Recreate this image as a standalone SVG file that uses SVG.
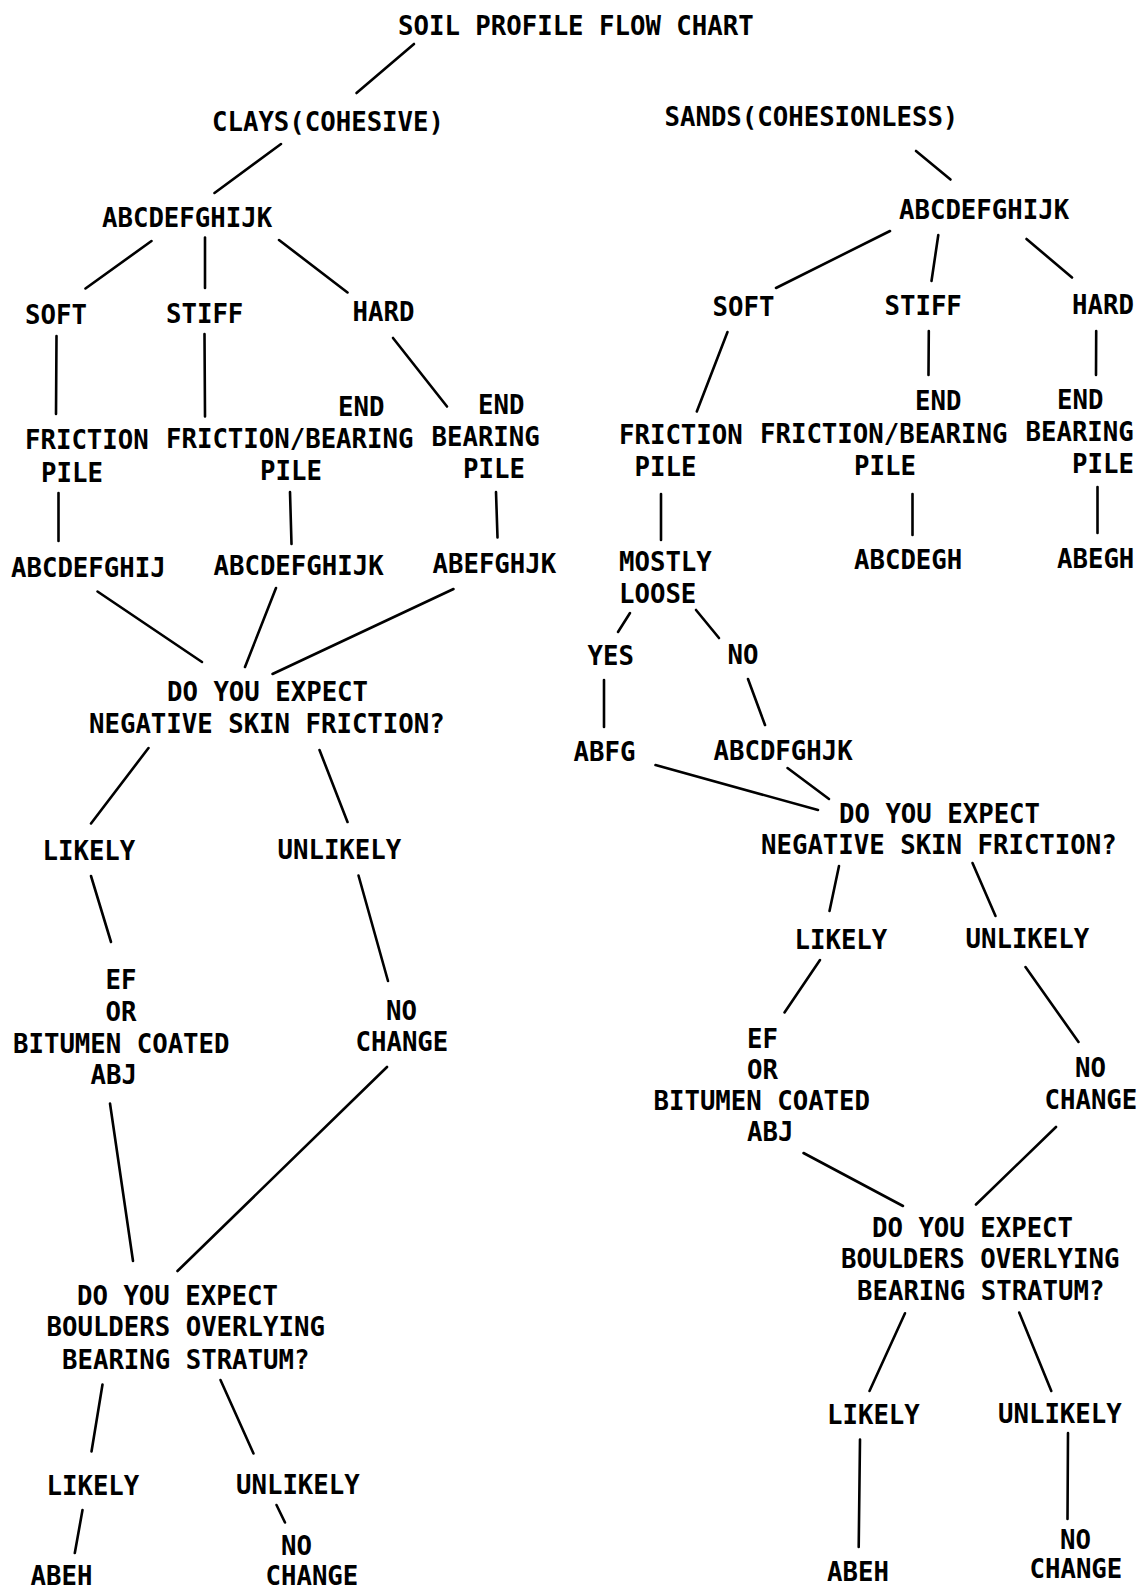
<svg xmlns="http://www.w3.org/2000/svg" width="1141" height="1589" viewBox="0 0 1141 1589">
<style>
.t { font-family: "DejaVu Sans Mono", "Liberation Mono", monospace; font-weight: bold; font-size: 25.7px; fill: #000; }
#connectors line { stroke: #000; stroke-width: 2.6; stroke-linecap: round; fill: none; }
</style>
<rect x="0" y="0" width="1141" height="1589" fill="#fff"/>
<g id="connectors">
  <line x1="414" y1="44" x2="356.5" y2="93"/>
  <line x1="281" y1="144" x2="214.5" y2="193"/>
  <line x1="151.5" y1="241" x2="85.5" y2="288.5"/>
  <line x1="205" y1="237.5" x2="205" y2="288"/>
  <line x1="279" y1="240" x2="347.5" y2="292.5"/>
  <line x1="56.5" y1="336" x2="56" y2="414"/>
  <line x1="204.5" y1="334" x2="205" y2="416.5"/>
  <line x1="393" y1="338" x2="447" y2="406.5"/>
  <line x1="58.5" y1="493" x2="58.5" y2="541"/>
  <line x1="290" y1="492" x2="291.5" y2="544"/>
  <line x1="496" y1="492" x2="497.5" y2="537.5"/>
  <line x1="97.5" y1="591.5" x2="202" y2="662"/>
  <line x1="276" y1="588" x2="245" y2="667"/>
  <line x1="453.5" y1="589" x2="272.5" y2="674"/>
  <line x1="148.5" y1="748" x2="91" y2="823.5"/>
  <line x1="319.5" y1="750" x2="347.5" y2="822"/>
  <line x1="91" y1="876" x2="111" y2="942"/>
  <line x1="358.5" y1="875.5" x2="388" y2="981"/>
  <line x1="110" y1="1103.5" x2="133" y2="1261"/>
  <line x1="387" y1="1067" x2="177.5" y2="1271"/>
  <line x1="102.5" y1="1384.5" x2="91.5" y2="1451.5"/>
  <line x1="220.5" y1="1380" x2="253.5" y2="1453.5"/>
  <line x1="82.5" y1="1510" x2="74.8" y2="1553"/>
  <line x1="276.5" y1="1505" x2="285" y2="1522.5"/>

  <line x1="916" y1="151" x2="950.5" y2="179.5"/>
  <line x1="890" y1="231" x2="776" y2="288"/>
  <line x1="938.3" y1="235" x2="931.5" y2="281"/>
  <line x1="1026.5" y1="239" x2="1072" y2="277.5"/>
  <line x1="727.5" y1="332" x2="696.8" y2="411.5"/>
  <line x1="928.8" y1="331" x2="928.5" y2="375"/>
  <line x1="1096.2" y1="331" x2="1096" y2="375"/>
  <line x1="661" y1="494" x2="661" y2="540"/>
  <line x1="912.5" y1="494" x2="912.5" y2="535"/>
  <line x1="1097.5" y1="487" x2="1097.5" y2="533"/>
  <line x1="630" y1="613" x2="618" y2="632"/>
  <line x1="696" y1="610" x2="719" y2="638"/>
  <line x1="604" y1="680" x2="604" y2="727"/>
  <line x1="748" y1="679" x2="765" y2="725"/>
  <line x1="655.5" y1="765" x2="818" y2="810"/>
  <line x1="787.5" y1="768" x2="829" y2="799"/>
  <line x1="839" y1="866" x2="829.5" y2="911"/>
  <line x1="972.5" y1="863" x2="995.5" y2="916"/>
  <line x1="820" y1="960" x2="784.5" y2="1012.5"/>
  <line x1="1025.5" y1="967" x2="1078.5" y2="1042"/>
  <line x1="803.5" y1="1153" x2="903" y2="1206"/>
  <line x1="1056" y1="1127" x2="976" y2="1204.5"/>
  <line x1="905" y1="1313.3" x2="869.5" y2="1391"/>
  <line x1="1019.2" y1="1312.5" x2="1051.3" y2="1391"/>
  <line x1="860" y1="1439.5" x2="858.7" y2="1547"/>
  <line x1="1068" y1="1433" x2="1067.5" y2="1519"/>
</g>

<g id="title"><text class="t" x="398" y="35">SOIL PROFILE FLOW CHART</text></g>
<g id="clays"><text class="t" x="212" y="131">CLAYS(COHESIVE)</text></g>
<g id="clays-abc"><text class="t" x="102" y="226.5">ABCDEFGHIJK</text></g>
<g id="clays-soft"><text class="t" x="25" y="323.5">SOFT</text></g>
<g id="clays-stiff"><text class="t" x="166" y="322.5">STIFF</text></g>
<g id="clays-hard"><text class="t" x="352.5" y="320.5">HARD</text></g>
<g id="clays-friction-pile">
  <text class="t" x="25" y="448.5">FRICTION</text>
  <text class="t" x="41" y="481.5">PILE</text>
</g>
<g id="clays-fb-pile">
  <text class="t" x="338" y="416">END</text>
  <text class="t" x="166" y="447.5">FRICTION/BEARING</text>
  <text class="t" x="260" y="479.5">PILE</text>
</g>
<g id="clays-eb-pile">
  <text class="t" x="478" y="414">END</text>
  <text class="t" x="431.5" y="445.5">BEARING</text>
  <text class="t" x="463" y="477.5">PILE</text>
</g>
<g id="clays-abcdefghij"><text class="t" x="11" y="577">ABCDEFGHIJ</text></g>
<g id="clays-abcdefghijk"><text class="t" x="213.5" y="575">ABCDEFGHIJK</text></g>
<g id="clays-abefghjk"><text class="t" x="432.5" y="573">ABEFGHJK</text></g>
<g id="clays-nsf">
  <text class="t" x="167" y="700.5">DO YOU EXPECT</text>
  <text class="t" x="89" y="733">NEGATIVE SKIN FRICTION?</text>
</g>
<g id="clays-nsf-likely"><text class="t" x="42.5" y="859.5">LIKELY</text></g>
<g id="clays-nsf-unlikely"><text class="t" x="277.5" y="858.5">UNLIKELY</text></g>
<g id="clays-coated">
  <text class="t" x="105.5" y="988.5">EF</text>
  <text class="t" x="105.5" y="1021">OR</text>
  <text class="t" x="13" y="1052.5">BITUMEN COATED</text>
  <text class="t" x="90.5" y="1084">ABJ</text>
</g>
<g id="clays-nochange1">
  <text class="t" x="386" y="1020">NO</text>
  <text class="t" x="355.5" y="1050.5">CHANGE</text>
</g>
<g id="clays-boulders">
  <text class="t" x="77" y="1304.5">DO YOU EXPECT</text>
  <text class="t" x="46.5" y="1336">BOULDERS OVERLYING</text>
  <text class="t" x="62" y="1368.5">BEARING STRATUM?</text>
</g>
<g id="clays-b-likely"><text class="t" x="46.5" y="1495">LIKELY</text></g>
<g id="clays-b-unlikely"><text class="t" x="236" y="1494">UNLIKELY</text></g>
<g id="clays-abeh"><text class="t" x="30.5" y="1584.5">ABEH</text></g>
<g id="clays-nochange2">
  <text class="t" x="281" y="1555">NO</text>
  <text class="t" x="265.5" y="1584.5">CHANGE</text>
</g>

<g id="sands"><text class="t" x="664.5" y="126">SANDS(COHESIONLESS)</text></g>
<g id="sands-abc"><text class="t" x="899" y="218.5">ABCDEFGHIJK</text></g>
<g id="sands-soft"><text class="t" x="712.5" y="315.5">SOFT</text></g>
<g id="sands-stiff"><text class="t" x="884.5" y="314.5">STIFF</text></g>
<g id="sands-hard"><text class="t" x="1072" y="313.5">HARD</text></g>
<g id="sands-friction-pile">
  <text class="t" x="619" y="443.5">FRICTION</text>
  <text class="t" x="634.5" y="475.5">PILE</text>
</g>
<g id="sands-fb-pile">
  <text class="t" x="915" y="410">END</text>
  <text class="t" x="760" y="442.5">FRICTION/BEARING</text>
  <text class="t" x="854" y="474.5">PILE</text>
</g>
<g id="sands-eb-pile">
  <text class="t" x="1057" y="409">END</text>
  <text class="t" x="1025.5" y="440.5">BEARING</text>
  <text class="t" x="1072" y="472.5">PILE</text>
</g>
<g id="sands-mostly-loose">
  <text class="t" x="619" y="571">MOSTLY</text>
  <text class="t" x="619" y="602.5">LOOSE</text>
</g>
<g id="sands-abcdegh"><text class="t" x="854" y="569">ABCDEGH</text></g>
<g id="sands-abegh"><text class="t" x="1057" y="568">ABEGH</text></g>
<g id="sands-yes"><text class="t" x="587.5" y="665">YES</text></g>
<g id="sands-no"><text class="t" x="727.5" y="664">NO</text></g>
<g id="sands-abfg"><text class="t" x="573.5" y="760.5">ABFG</text></g>
<g id="sands-abcdfghjk"><text class="t" x="713.5" y="759.5">ABCDFGHJK</text></g>
<g id="sands-nsf">
  <text class="t" x="839" y="822.5">DO YOU EXPECT</text>
  <text class="t" x="761" y="853.5">NEGATIVE SKIN FRICTION?</text>
</g>
<g id="sands-nsf-likely"><text class="t" x="794.5" y="949">LIKELY</text></g>
<g id="sands-nsf-unlikely"><text class="t" x="965.5" y="948">UNLIKELY</text></g>
<g id="sands-coated">
  <text class="t" x="747" y="1047.5">EF</text>
  <text class="t" x="747" y="1078.5">OR</text>
  <text class="t" x="653.5" y="1110">BITUMEN COATED</text>
  <text class="t" x="747" y="1141">ABJ</text>
</g>
<g id="sands-nochange1">
  <text class="t" x="1075" y="1076.5">NO</text>
  <text class="t" x="1044.5" y="1109">CHANGE</text>
</g>
<g id="sands-boulders">
  <text class="t" x="872" y="1237">DO YOU EXPECT</text>
  <text class="t" x="841" y="1268">BOULDERS OVERLYING</text>
  <text class="t" x="857" y="1299.5">BEARING STRATUM?</text>
</g>
<g id="sands-b-likely"><text class="t" x="827" y="1424">LIKELY</text></g>
<g id="sands-b-unlikely"><text class="t" x="998" y="1423">UNLIKELY</text></g>
<g id="sands-abeh"><text class="t" x="827" y="1581">ABEH</text></g>
<g id="sands-nochange2">
  <text class="t" x="1060" y="1549">NO</text>
  <text class="t" x="1029.5" y="1578">CHANGE</text>
</g>
</svg>
